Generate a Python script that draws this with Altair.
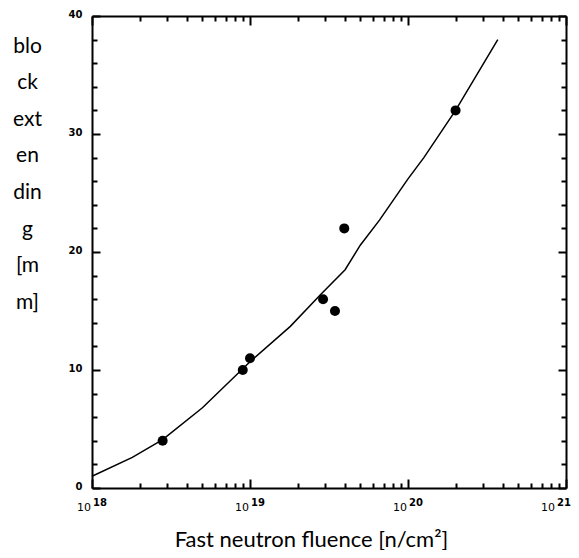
import altair as alt
import pandas as pd

# Curve (fluence in n/cm^2, block extending in mm)
curve_fluence = [1.0e18, 1.8e18, 2.8e18, 5.0e18, 1.0e19, 1.8e19, 2.8e19, 4.0e19,
                 5.0e19, 6.6e19, 1.0e20, 1.26e20, 2.0e20, 3.7e20]
curve_ext = [1.0, 2.6, 4.1, 6.8, 10.7, 13.7, 16.4, 18.5, 20.6, 22.7, 26.2, 28.0, 32.0, 38.0]

# Measured points
pt_fluence = [2.8e18, 9.0e18, 1.0e19, 2.9e19, 3.45e19, 3.95e19, 2.0e20]
pt_ext = [4, 10, 11, 16, 15, 22, 32]

# Axis ticks / labels
x_ticks = [float(m) * 10.0 ** d for d in (18, 19, 20) for m in range(1, 10)] + [1e21]
y_ticks = list(range(0, 41, 2))
decade_values = [1e18, 1e19, 1e20, 1e21]
decade_base = ["10", "10", "10", "10"]
decade_exp = ["18", "19", "20", "21"]

y_title_lines = ["blo", "ck", "ext", "en", "din", "g", "[m", "m]"]
x_title = "Fast neutron fluence [n/cm²]"

curve_df = pd.DataFrame({"fluence": curve_fluence, "ext": curve_ext})
pt_df = pd.DataFrame({"fluence": pt_fluence, "ext": pt_ext})
dec_df = pd.DataFrame({"fluence": decade_values, "base": decade_base, "exp": decade_exp})

decade = "abs(log(datum.value)/LN10 - round(log(datum.value)/LN10)) < 0.001"
y_major = "datum.value % 10 == 0"

tick_x = {"condition": {"test": decade, "expr": "-9"}, "expr": "-5"}
tick_y = {"condition": {"test": y_major, "expr": "-8"}, "expr": "-5"}

xscale = alt.Scale(type="log", domain=[1e18, 1e21], nice=False)
yscale = alt.Scale(domain=[0, 40], nice=False, zero=False)

common = dict(grid=False, domainColor="black", domainWidth=2, tickColor="black",
              tickWidth=2, labelOverlap=False, labelBound=False)

line = alt.Chart(curve_df).mark_line(color="black", strokeWidth=1.5).encode(
    x=alt.X("fluence:Q", scale=xscale, axis=alt.Axis(
        orient="bottom", values=x_ticks, labels=False, tickSize=tick_x,
        title=x_title, titleFont="Lato", titleFontSize=22, titleFontWeight="normal",
        titleColor="black", titleX=219, titleY=58, titleAlign="center",
        titleBaseline="alphabetic", titleAngle=0, **common)),
    y=alt.Y("ext:Q", scale=yscale, axis=alt.Axis(
        orient="left", values=y_ticks, labelExpr=f"{y_major} ? datum.label : ''",
        tickSize=tick_y,
        labelFont="DejaVu Sans", labelFontWeight="bold", labelFontSize=10,
        labelColor="black", labelPadding=18, labelOffset=-2,
        title=y_title_lines, titleFont="Lato", titleFontSize=21, titleFontWeight="normal",
        titleColor="black", titleX=-65, titleY=19, titleAlign="center",
        titleBaseline="top", titleAngle=0, titleLineHeight=36.6, **common)),
)

points = alt.Chart(pt_df).mark_circle(color="black", size=100, opacity=1).encode(
    x=alt.X("fluence:Q", scale=xscale, axis=alt.Axis(
        orient="top", values=x_ticks, labels=False, tickSize=tick_x, title=None, **common)),
    y=alt.Y("ext:Q", scale=yscale, axis=alt.Axis(
        orient="right", values=y_ticks, labels=False, tickSize=tick_y, title=None, **common)),
)

# Decade labels "10" with a raised bold exponent
lab_base = alt.Chart(dec_df)
inner = "datum.fluence < 1e21"
outer = "datum.fluence >= 1e21"
txt_x = alt.X("fluence:Q", scale=xscale, axis=None)

base_in = lab_base.transform_filter(inner).mark_text(
    align="right", baseline="alphabetic", dx=-1, font="DejaVu Sans", fontSize=11, color="black"
).encode(x=txt_x, y=alt.value(495), text="base:N")
base_out = lab_base.transform_filter(outer).mark_text(
    align="right", baseline="alphabetic", dx=-11, font="DejaVu Sans", fontSize=11, color="black"
).encode(x=txt_x, y=alt.value(495), text="base:N")
exp_in = lab_base.transform_filter(inner).mark_text(
    align="left", baseline="alphabetic", dx=1, font="DejaVu Sans", fontSize=10,
    fontWeight="bold", color="black"
).encode(x=txt_x, y=alt.value(490), text="exp:N")
exp_out = lab_base.transform_filter(outer).mark_text(
    align="left", baseline="alphabetic", dx=-9, font="DejaVu Sans", fontSize=10,
    fontWeight="bold", color="black"
).encode(x=txt_x, y=alt.value(490), text="exp:N")

chart = alt.layer(line, points, base_in, base_out, exp_in, exp_out).resolve_axis(
    x="independent", y="independent"
).properties(
    width=474, height=472, autosize="none",
    padding={"left": 84, "top": 8, "right": 5, "bottom": 62},
).configure_view(stroke=None)

chart.save("out.html", embed_options={"renderer": "svg", "actions": False})
